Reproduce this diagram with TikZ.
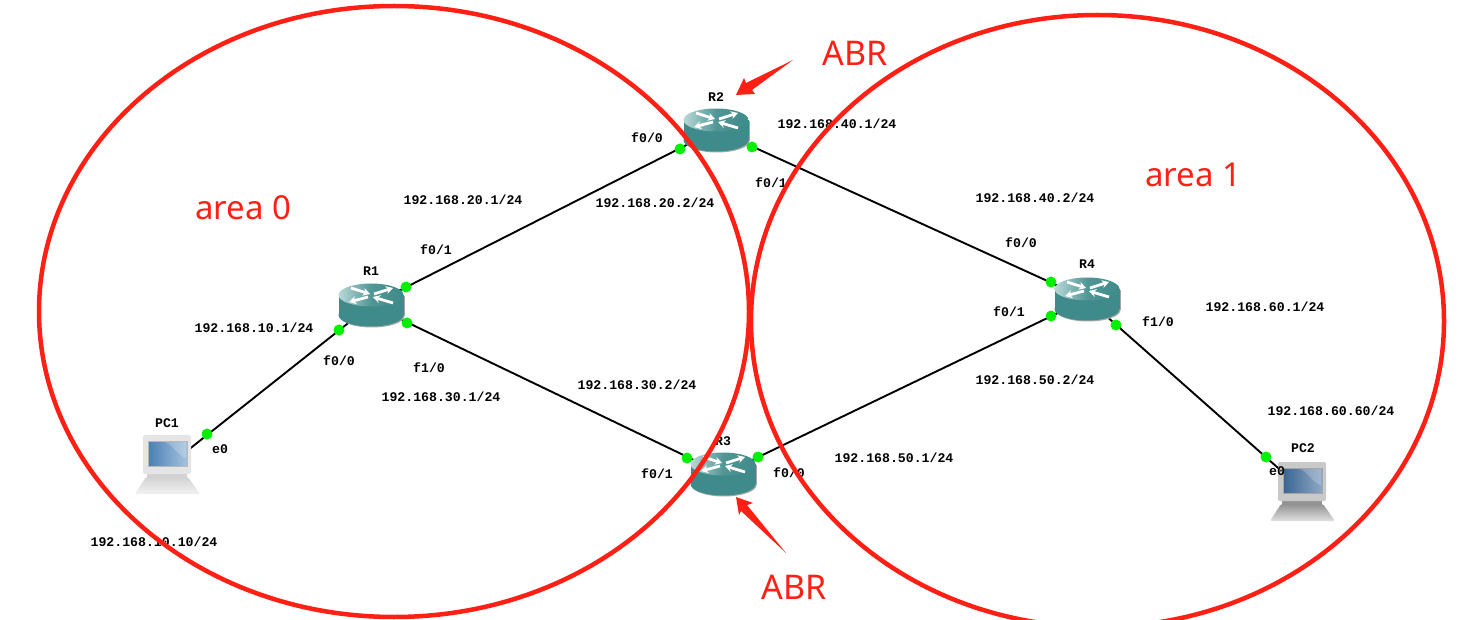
\documentclass[tikz,border=0pt]{standalone}
\usepackage{fontspec}
\setmainfont{Liberation Mono}
\newfontfamily\redfont{Noto Sans}
\usetikzlibrary{arrows.meta}
\definecolor{areared}{HTML}{FF2015}
\definecolor{teal1}{HTML}{3F8A8A}
\definecolor{teal2}{HTML}{B9D8D8}
\definecolor{dotgreen}{HTML}{00F000}
\definecolor{scrA}{HTML}{4A7FB5}
\definecolor{scrB}{HTML}{A5C2DC}
\definecolor{scrC}{HTML}{3A6593}
\definecolor{scrD}{HTML}{8FA8C4}
\tikzset{
  x=1pt,y=-1pt,
  lbl/.style={font=\fontsize{13.2}{14}\selectfont\bfseries,inner sep=0pt,text=black},
  bigred/.style={font=\redfont\fontsize{34}{36}\selectfont,inner sep=0pt,text=areared},
  arealbl/.style={font=\redfont\fontsize{33}{36}\selectfont,inner sep=0pt,text=areared},
  hub/.style={inner sep=0pt,minimum size=1pt},
  link/.style={draw=black,line width=1.9pt},
  port/.style={circle,fill=dotgreen,inner sep=0pt,minimum size=11pt},
  area/.style={draw=areared,line width=4.5pt},
  flecha/.style={fill=areared,draw=none},
  wht/.style={draw=white,line width=2.8pt,-{Stealth[length=7pt,width=8pt]}},
  routericon/.pic={
    \fill[gray!70] (1,11) ellipse [x radius=32.5,y radius=11.5];
    \fill[gray!70] (32,-9) rectangle (33.7,11);
    \fill[teal1] (0,10) ellipse [x radius=32.5,y radius=11.5];
    \fill[teal1] (-32.5,-10) rectangle (32.5,10);
    \shade[left color=teal2,right color=teal1,middle color=teal1!85!teal2] (0,-10) ellipse [x radius=32.5,y radius=11.5];
    \draw[wht] (-20,-17) -- (-1,-11);
    \draw[wht] (3,-11) -- (22,-17);
    \draw[wht] (-3,-8) -- (-22,-3);
    \draw[wht] (22,-2) -- (2,-8);
  },
  pcicon/.pic={
    \shade[top color=\pcA,bottom color=\pcB,rounded corners=1.5pt] (-21,42) -- (21,42) -- (33,59) -- (-32,59) -- cycle;
    \fill[\pcA] (-20,38) rectangle (20,43);
    \fill[\pcC,rounded corners=2pt] (-24,0) rectangle (24,39);
    \shade[left color=\pcS,right color=\pcT,draw=\pcD,line width=0.8pt] (-19,6) rectangle (20,31);
    \fill[white,opacity=.2] (-2,7) .. controls (8,12) and (10,20) .. (19,23) -- (19,7) -- cycle;
  },
}
\begin{document}
\begin{tikzpicture}
\path[use as bounding box,fill=white] (0,0) rectangle (1462,620);
% anchors
\node[hub] (R1) at (371,305) {};
\node[hub] (R2) at (716,130) {};
\node[hub] (R3) at (723,474) {};
\node[hub] (R4) at (1087,299) {};
\node[hub] (PC1) at (168,466) {};
\node[hub] (PC2) at (1303,490) {};
% links
\draw[link] (PC1) -- (R1);
\draw[link] (R1) -- (R2);
\draw[link] (R1) -- (R3);
\draw[link] (R2) -- (R4);
\draw[link] (R3) -- (R4);
\draw[link] (R4) -- (PC2);
% icons
\pic at (371,305) {routericon};
\pic at (716,130) {routericon};
\pic at (723,474) {routericon};
\pic at (1087,299) {routericon};
\def\pcA{gray!35}\def\pcB{gray!10}\def\pcC{gray!20}\def\pcD{gray!55}\def\pcS{scrA}\def\pcT{scrB}
\pic at (167,435) {pcicon};
\def\pcA{gray!85}\def\pcB{gray!25}\def\pcC{gray!42}\def\pcD{gray!70}\def\pcS{scrC}\def\pcT{scrD}
\pic at (1302,462) {pcicon};
% ports
\foreach \n/\x/\y in {a/339/330,b/207/434,c/406/287,d/680/149,e/407/323,f/687/458,g/752/147,h/1051/282,i/758/457,j/1051/316,k/1116/325,l/1266/457}
  \node[port] (p\n) at (\x,\y) {};
% labels
\foreach \n/\x/\y/\t in {
 t1/371/271/R1, t2/716/97/R2, t3/723/441/R3, t4/1087/264/R4, t5/167/423/PC1, t6/1303/448/PC2,
 t7/463/200/192.168.20.1\slash24, t8/655/203/192.168.20.2\slash24, t9/647/138/f0\slash0, t10/436/250/f0\slash1,
 t11/254/328/192.168.10.1\slash24, t12/339/361/f0\slash0, t13/429/368/f1\slash0, t14/441/397/192.168.30.1\slash24,
 t15/637/385/192.168.30.2\slash24, t16/657/474/f0\slash1, t17/789/473/f0\slash0, t18/894/458/192.168.50.1\slash24,
 t19/1035/380/192.168.50.2\slash24, t20/1009/312/f0\slash1, t21/1021/243/f0\slash0, t22/1035/198/192.168.40.2\slash24,
 t23/837/124/192.168.40.1\slash24, t24/771/183/f0\slash1, t25/1158/322/f1\slash0, t26/1265/307/192.168.60.1\slash24,
 t27/1331/411/192.168.60.60\slash24, t28/1277/471/e0, t29/220/449/e0, t30/154/542/192.168.10.10\slash24}
  \node[lbl] (\n) at (\x,\y) {\t};
% red annotations
\begin{scope}
\clip (0,0) rectangle (1462,620);
\draw[area] (394,311.5) ellipse [x radius=355,y radius=305.5];
\draw[area] (1097.5,321) ellipse [x radius=346.5,y radius=306];
\end{scope}
\fill[flecha] (793,60) -- (746,83) -- (744,78) -- (736,95) -- (755,94) -- (752,90) -- cycle;
\fill[flecha] (786,553) -- (747,505) -- (753,503) -- (736,497) -- (739,515) -- (741,511) -- cycle;
\node[bigred] (abr1) at (855,53) {ABR};
\node[bigred] (abr2) at (794,587) {ABR};
\node[arealbl] (ar0) at (243.5,208) {area 0};
\node[arealbl] (ar1) at (1193.5,175) {area 1};
\end{tikzpicture}
\end{document}
